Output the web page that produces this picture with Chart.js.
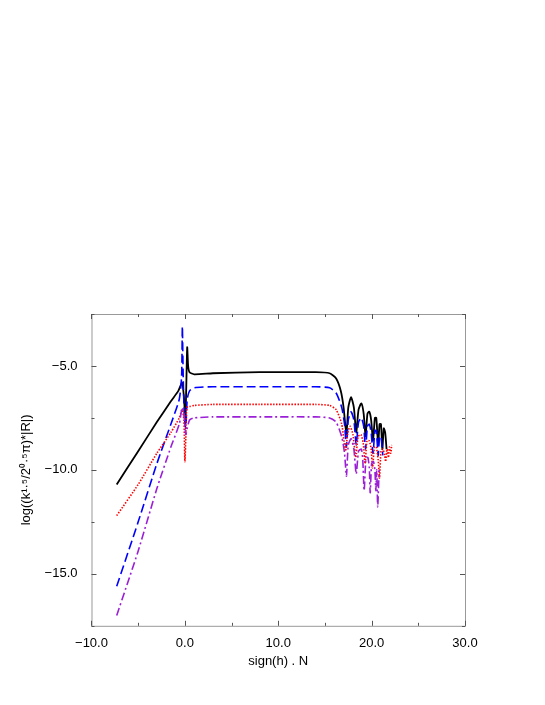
<!DOCTYPE html>
<html>
<head>
<meta charset="utf-8">
<script src="https://cdn.jsdelivr.net/npm/chart.js@4"></script>
<style>
  html, body { margin: 0; padding: 0; background: #fff; }
  #wrap { width: 545px; height: 705px; position: relative; }
</style>
</head>
<body>
<div id="wrap"><canvas id="c"></canvas></div>
<script>
// data: [x, y] pairs
const blackPts = [[-7.3,-10.7],[-5,-9.1],[-3,-7.7],[-1.5,-6.7],[-0.7,-6.2],[-0.3,-5.8],[-0.1,-6.5],[0.05,-7.6],[0.15,-6.0],[0.25,-4.1],[0.35,-5.0],[0.5,-5.3],[1,-5.4],[3,-5.35],[8,-5.3],[14,-5.3],[15.5,-5.35],[16.2,-5.6],[16.7,-6.2],[17.0,-7.0],[17.3,-8.3],[17.5,-7.0],[17.8,-6.5],[18.1,-7.0],[18.35,-8.2],[18.6,-7.1],[18.9,-6.8],[19.15,-7.3],[19.35,-8.4],[19.55,-7.3],[19.75,-7.2],[19.95,-7.6],[20.15,-8.6],[20.35,-7.5],[20.5,-7.5],[20.7,-8.8],[20.85,-7.8],[21.0,-7.8],[21.15,-9.0],[21.3,-8.0],[21.45,-8.2],[21.6,-9.0]];
const bluePts = [[-7.3,-15.6],[-5,-12.5],[-3,-9.7],[-1.5,-7.8],[-0.6,-6.6],[-0.35,-5.5],[-0.27,-3.1],[-0.18,-5.5],[-0.05,-7.5],[0.1,-8.0],[0.25,-6.6],[0.5,-6.2],[1,-6.05],[3,-6.0],[8,-6.0],[14,-6.0],[15.5,-6.05],[16.2,-6.3],[16.8,-7.0],[17.1,-7.8],[17.3,-8.9],[17.5,-7.6],[17.8,-7.2],[18.1,-7.6],[18.35,-8.8],[18.6,-7.7],[18.9,-7.5],[19.15,-7.9],[19.35,-9.0],[19.55,-7.9],[19.75,-7.8],[19.95,-8.2],[20.15,-9.2],[20.35,-8.1],[20.5,-8.1],[20.7,-9.3],[20.85,-8.4],[21.0,-8.4],[21.2,-9.3]];
const redPts = [[-7.3,-12.2],[-5,-10.7],[-3,-9.2],[-1.5,-8.2],[-0.6,-7.5],[-0.3,-7.1],[-0.1,-7.6],[0.0,-9.6],[0.1,-8.5],[0.2,-7.0],[0.5,-6.95],[1,-6.9],[3,-6.85],[8,-6.85],[14,-6.85],[15.5,-6.9],[16.2,-7.1],[16.8,-7.8],[17.2,-9.1],[17.45,-8.2],[17.7,-7.9],[18.0,-8.3],[18.3,-9.4],[18.55,-8.4],[18.85,-8.3],[19.1,-8.7],[19.3,-9.7],[19.5,-8.6],[19.75,-8.6],[19.95,-9.0],[20.1,-9.9],[20.3,-8.9],[20.5,-8.9],[20.7,-9.5],[20.85,-10.4],[21.0,-9.1],[21.2,-9.0],[21.4,-9.3],[21.5,-9.6],[21.65,-9.0],[21.8,-9.4],[21.9,-8.9],[22.05,-9.2],[22.15,-8.8]];
const purplePts = [[-7.3,-17.0],[-5,-13.9],[-3,-10.9],[-1.5,-8.9],[-0.6,-7.8],[-0.3,-7.0],[-0.1,-7.3],[0.1,-8.3],[0.25,-8.0],[0.5,-7.6],[1,-7.5],[3,-7.45],[8,-7.45],[14,-7.45],[15.5,-7.5],[16.2,-7.7],[16.8,-8.4],[17.1,-9.2],[17.3,-10.3],[17.5,-8.8],[17.8,-8.5],[18.1,-9.0],[18.35,-10.2],[18.6,-9.1],[18.9,-9.0],[19.05,-9.5],[19.2,-11.0],[19.4,-9.4],[19.6,-9.4],[19.75,-9.9],[19.85,-11.1],[20.0,-9.7],[20.2,-9.6],[20.35,-10.0],[20.45,-11.0],[20.55,-10.0],[20.65,-11.8],[20.8,-10.0]];
const xTickLabels = [-10, 0, 10, 20, 30];
const yTickLabels = [-5, -10, -15];

const fmt = v => v.toFixed(1).replace('-', '\u2212');

const innerTicks = {
  id: 'innerTicks',
  afterDraw(chart) {
    const { ctx, chartArea: a, scales: { x, y } } = chart;
    ctx.save();
    ctx.strokeStyle = '#999';
    ctx.lineWidth = 1;
    ctx.strokeRect(a.left + 0.5, a.top + 0.5, a.right - a.left, a.bottom - a.top);
    ctx.strokeStyle = '#555';
    for (let v = -10; v <= 30; v += 5) {
      const px = Math.round(x.getPixelForValue(v)) + 0.5;
      const len = xTickLabels.includes(v) ? 5 : 3;
      ctx.beginPath();
      ctx.moveTo(px, a.bottom); ctx.lineTo(px, a.bottom - len);
      ctx.moveTo(px, a.top); ctx.lineTo(px, a.top + len);
      ctx.stroke();
    }
    for (let v = -17.5; v <= -2.5; v += 2.5) {
      const py = Math.round(y.getPixelForValue(v)) + 0.5;
      const len = yTickLabels.includes(v) ? 5 : 3;
      ctx.beginPath();
      ctx.moveTo(a.left, py); ctx.lineTo(a.left + len, py);
      ctx.moveTo(a.right, py); ctx.lineTo(a.right - len, py);
      ctx.stroke();
    }
    ctx.restore();
  }
};

function ds(pts, color, dash, width) {
  return {
    data: pts.map(p => ({ x: p[0], y: p[1] })),
    showLine: true, borderColor: color, borderWidth: width,
    borderDash: dash, pointRadius: 0, tension: 0.2, fill: false
  };
}

new Chart(document.getElementById('c'), {
  type: 'scatter',
  data: {
    datasets: [
      ds(purplePts, '#9b1fd6', [8, 3, 2, 3], 1.6),
      ds(redPts, '#ff0000', [1.5, 1.5], 1.6),
      ds(bluePts, '#0000ff', [9, 4], 1.6),
      ds(blackPts, '#000000', [], 1.8)
    ]
  },
  options: {
    responsive: true, maintainAspectRatio: false, animation: false,
    layout: { padding: { top: 314, left: 15, right: 80, bottom: 36 } },
    plugins: { legend: { display: false }, tooltip: { enabled: false } },
    scales: {
      x: {
        type: 'linear', min: -10, max: 30,
        grid: { display: false }, border: { display: false },
        afterBuildTicks: s => { s.ticks = xTickLabels.map(v => ({ value: v })); },
        ticks: { callback: fmt, color: '#000', font: { family: 'Liberation Sans', size: 13 }, maxRotation: 0, padding: 2 },
        title: { display: true, text: 'sign(h) . N', color: '#000', font: { family: 'Liberation Sans', size: 13 }, padding: 0 }
      },
      y: {
        type: 'linear', min: -17.5, max: -2.5,
        grid: { display: false }, border: { display: false },
        afterBuildTicks: s => { s.ticks = yTickLabels.map(v => ({ value: v })); },
        ticks: { callback: fmt, color: '#000', font: { family: 'Liberation Sans', size: 13 }, padding: 6 },
        title: { display: true, text: 'log((k\u00B9\u00B7\u2075/2\u2070\u00B7\u2075\u03C0)*|R|)', color: '#000', font: { family: 'Liberation Sans', size: 13 }, padding: 4 }
      }
    }
  },
  plugins: [innerTicks]
});
</script>
</body>
</html>
